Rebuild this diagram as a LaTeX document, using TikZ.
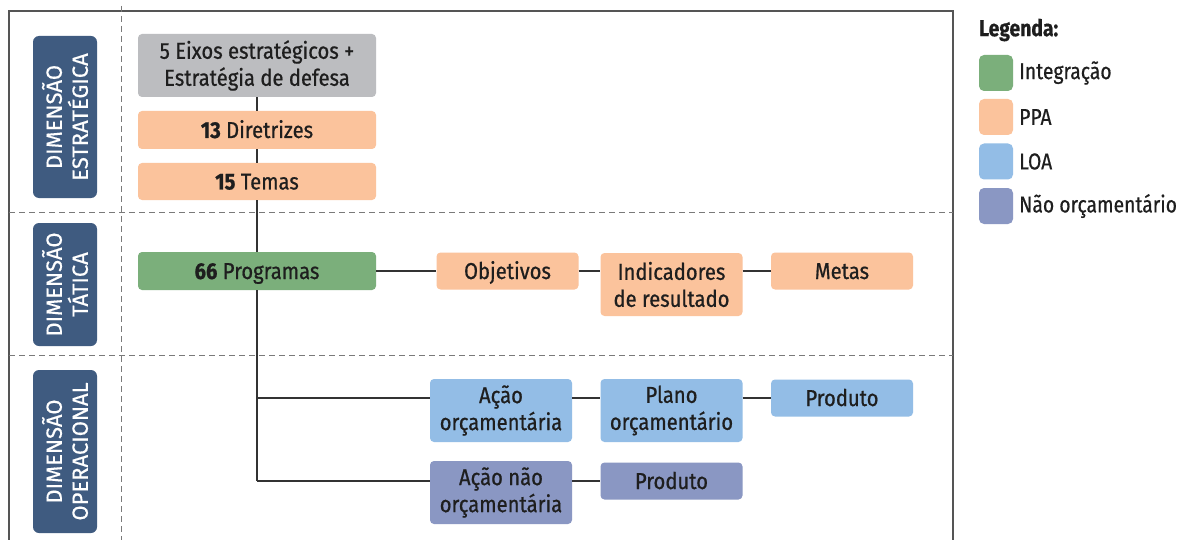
\documentclass[tikz,border=0pt]{standalone}
\usepackage{fontspec}
\setmainfont{Fira Sans}[FakeStretch=0.88, FakeBold=0.7]
\newfontfamily\labelfont{Fira Sans}[FakeBold=0.5]
\newfontfamily\legfont{Fira Sans}[FakeStretch=0.84, FakeBold=0.5]
\definecolor{lblue}{HTML}{3F5B80}
\definecolor{grayb}{HTML}{BCBDC0}
\definecolor{ppa}{HTML}{FBC39C}
\definecolor{integ}{HTML}{7BAF7B}
\definecolor{loa}{HTML}{93BDE6}
\definecolor{naoorc}{HTML}{8A97C3}
\definecolor{txt}{HTML}{1E1E1E}
\definecolor{frameC}{HTML}{555555}
\definecolor{lineC}{HTML}{333333}
\definecolor{dashC}{HTML}{7A7A7A}
\begin{document}
\begin{tikzpicture}[x=1pt,y=-1pt,
  box/.style={rounded corners=4pt, inner sep=0pt, align=center, text=txt, font=\fontsize{23}{27}\selectfont},
  oneline/.style={text height=16pt, text depth=0pt},
  wide/.style={minimum width=238pt},
  narrow/.style={minimum width=142pt},
  tall/.style={minimum height=63pt},
  short/.style={minimum height=37pt},
  lbl/.style={fill=lblue, rounded corners=6pt, rotate=90, minimum height=64pt, inner sep=0pt, align=center, text=white, font=\labelfont\fontsize{22}{26}\selectfont},
  conn/.style={draw=lineC, line width=1.3pt},
  dashln/.style={draw=dashC, line width=1pt, dash pattern=on 6pt off 4pt},
  swatch/.style={rounded corners=5pt, minimum width=34pt, minimum height=36pt, inner sep=0pt},
  legtxt/.style={anchor=west, inner sep=0pt, text=txt, font=\legfont\fontsize{23}{27}\selectfont}
]
\useasboundingbox (0,0) rectangle (1182,540);
\fill[white] (0,0) rectangle (1182,540);

% frame
\draw[frameC, line width=1.3pt] (9,540) -- (9,11) -- (953,11) -- (953,540);
% dashed separators
\draw[dashln] (121,6) -- (121,540);
\draw[dashln] (9,212) -- (953,212);
\draw[dashln] (9,355) -- (953,355);

% dimension labels
\node[lbl, minimum width=162pt] (d1) at (65,117) {DIMENSÃO\\ESTRATÉGICA};
\node[lbl, minimum width=123pt] (d2) at (65,284.5) {DIMENSÃO\\TÁTICA};
\node[lbl, minimum width=163pt] (d3) at (65,451.5) {DIMENSÃO\\OPERACIONAL};

% main column
\node[box, wide, tall, fill=grayb] (eixos) at (257,65.5) {5 Eixos estratégicos +\\Estratégia de defesa};
\node[box, oneline, wide, fill=ppa, minimum height=38pt] (dir) at (257,130) {\textbf{13} Diretrizes};
\node[box, oneline, wide, short, fill=ppa] (temas) at (257,181.5) {\textbf{15} Temas};
\node[box, oneline, wide, fill=integ, minimum height=38pt] (prog) at (257,271) {\textbf{66} Programas};

% tactical row
\node[box, oneline, narrow, short, fill=ppa] (obj) at (507.5,271) {Objetivos};
\node[box, narrow, tall, fill=ppa] (ind) at (671.5,284.5) {Indicadores\\de resultado};
\node[box, oneline, narrow, short, fill=ppa] (metas) at (842,271) {Metas};

% operational rows
\node[box, narrow, tall, fill=loa] (acao) at (501,410.5) {Ação\\orçamentária};
\node[box, narrow, tall, fill=loa] (plano) at (671.5,410.5) {Plano\\orçamentário};
\node[box, oneline, narrow, short, fill=loa] (prod1) at (842,398) {Produto};
\node[box, narrow, tall, fill=naoorc] (acaonao) at (501,492.5) {Ação não\\orçamentária};
\node[box, oneline, narrow, short, fill=naoorc] (prod2) at (671.5,481) {Produto};

% connectors
\coordinate (c1) at (257,398);
\coordinate (c2) at (257,481);
\draw[conn] (eixos.south) -- (dir.north);
\draw[conn] (dir.south) -- (temas.north);
\draw[conn] (temas.south) -- (prog.north);
\draw[conn] (prog.south) -- (c2);
\draw[conn] (prog.east) -- (obj.west);
\draw[conn] (obj.east) -- (obj.east -| ind.west);
\draw[conn] (ind.east |- metas.west) -- (metas.west);
\draw[conn] (c1) -- (c1 -| acao.west);
\draw[conn] (acao.east |- c1) -- (c1 -| plano.west);
\draw[conn] (plano.east |- c1) -- (prod1.west);
\draw[conn] (c2) -- (c2 -| acaonao.west);
\draw[conn] (acaonao.east |- c2) -- (prod2.west);

% legend
\node[legtxt, font=\legfont\bfseries\fontsize{23}{27}\selectfont] (leg) at (979,30) {Legenda:};
\node[swatch, fill=integ] (s1) at (996,73) {};
\node[swatch, fill=ppa] (s2) at (996,117) {};
\node[swatch, fill=loa] (s3) at (996,161.5) {};
\node[swatch, fill=naoorc] (s4) at (996,206) {};
\node[legtxt] (l1) at (1019,73) {Integração};
\node[legtxt] (l2) at (1019,117) {PPA};
\node[legtxt] (l3) at (1019,161.5) {LOA};
\node[legtxt] (l4) at (1019,206) {Não orçamentário};
\end{tikzpicture}
\end{document}
